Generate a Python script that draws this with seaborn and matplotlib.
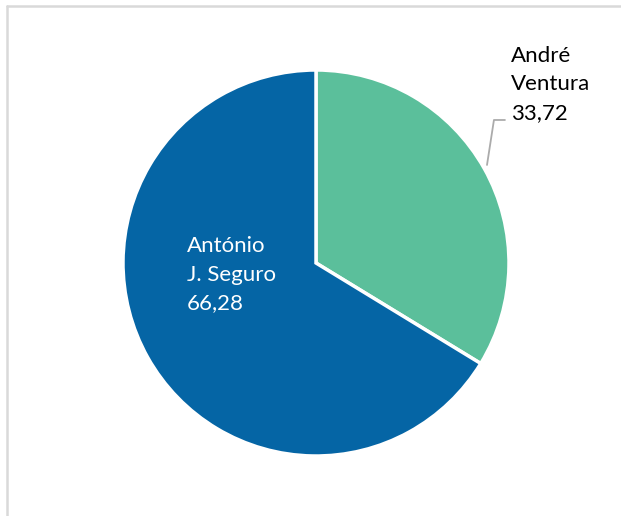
import matplotlib
matplotlib.use("Agg")
import matplotlib.pyplot as plt
from matplotlib.lines import Line2D
import seaborn as sns

candidates = ["André\nVentura", "António\nJ. Seguro"]
shares = [33.72, 66.28]
colors = ["#5BBF9B", "#0565A5"]

sns.set_theme(style="white")
plt.rcParams["font.family"] = ["Lato", "DejaVu Sans"]

W, H = 621, 516
fig = plt.figure(figsize=(W / 100, H / 100), dpi=100)
fig.patch.set_facecolor("white")

# pie centre and radius in pixels (from top-left)
cx, cy, r = 316, 263, 193
ax = fig.add_axes([(cx - r) / W, (H - cy - r) / H, 2 * r / W, 2 * r / H])
ax.pie(shares, colors=colors, startangle=90, counterclock=False, radius=1,
       wedgeprops=dict(edgecolor="white", linewidth=2.5))
ax.set_xlim(-1, 1)
ax.set_ylim(-1, 1)
ax.set_aspect("equal")
ax.axis("off")

def fmt(v):
    return f"{v:.2f}".replace(".", ",")

# label inside the large slice
ax.text(-0.668, -0.06, f"{candidates[1]}\n{fmt(shares[1])}", color="white",
        ha="left", va="center", fontsize=16, linespacing=1.52)
# label outside the small slice with a leader line
ax.text(1.01, 0.925, f"{candidates[0]}\n{fmt(shares[0])}", color="black",
        ha="left", va="center", fontsize=16, linespacing=1.52, clip_on=False)
ax.add_line(Line2D([0.886, 0.922, 0.979], [0.508, 0.741, 0.741],
                   color="#ABABAB", linewidth=1.3, clip_on=False))

# chart area border (top and left edges visible)
fig.add_artist(Line2D([7 / W, 7 / W], [0, 1 - 6 / H], color="#D9D9D9", linewidth=1.8,
                      transform=fig.transFigure))
fig.add_artist(Line2D([7 / W, 1], [1 - 6 / H, 1 - 6 / H], color="#D9D9D9", linewidth=1.8,
                      transform=fig.transFigure))

fig.savefig("out.png", dpi=100, facecolor="white")
